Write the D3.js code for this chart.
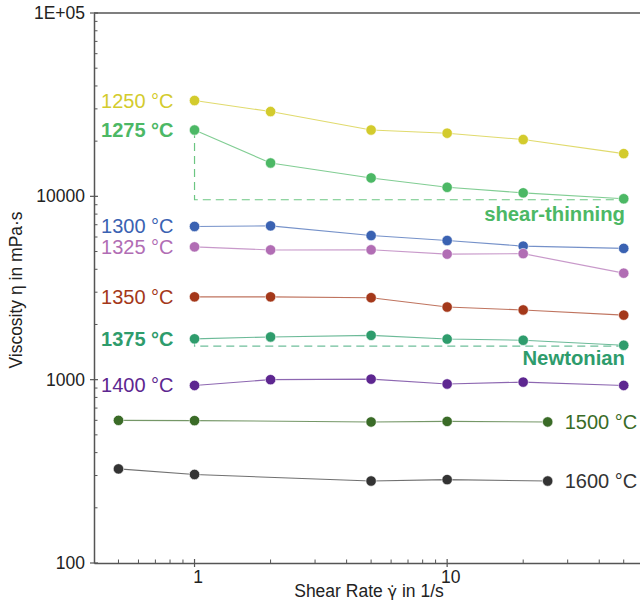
<!DOCTYPE html>
<html><head><meta charset="utf-8">
<script src="https://cdn.jsdelivr.net/npm/d3@7"></script>
<style>
html,body{margin:0;padding:0;background:#fff;}
svg{display:block;font-family:"Liberation Sans",Arial,sans-serif;}
</style></head>
<body><svg id="chart" width="640" height="604"></svg>
<script>
// ---- data ----
const rateLow = [1, 2, 5, 10, 20, 50];          // shear rates, 1250–1400 °C
const rateHigh = [0.5, 1, 5, 10, 25];           // shear rates, 1500–1600 °C
const temps = ["1250 °C","1275 °C","1300 °C","1325 °C","1350 °C","1375 °C","1400 °C","1500 °C","1600 °C"];
const eta1250 = [33300, 29000, 23000, 22100, 20400, 17100];
const eta1275 = [23000, 15200, 12600, 11200, 10450, 9700];
const eta1300 = [6850, 6900, 6110, 5740, 5350, 5200];
const eta1325 = [5300, 5100, 5110, 4840, 4870, 3810];
const eta1350 = [2830, 2830, 2800, 2490, 2400, 2250];
const eta1375 = [1670, 1710, 1745, 1665, 1640, 1540];
const eta1400 = [930, 1000, 1007, 947, 970, 930];
const eta1500 = [600, 598, 588, 592, 588];
const eta1600 = [326, 304, 280, 285, 280];
const colors = ["#d3cb2d","#4cb865","#3a62b2","#b16db4","#a4381a","#2e9c6c","#5d2690","#3a6b27","#333333"];
const boldLabels = [false,true,false,false,false,true,false,false,false];
const yTickLabels = ["100","1000","10000","1E+05"];
const yTickValues = [100, 1000, 10000, 100000];
const xTickValues = [1, 10];
const xTickLabels = ["1","10"];
const annotations = ["shear-thinning","Newtonian"];

const seriesX = [rateLow,rateLow,rateLow,rateLow,rateLow,rateLow,rateLow,rateHigh,rateHigh];
const seriesY = [eta1250,eta1275,eta1300,eta1325,eta1350,eta1375,eta1400,eta1500,eta1600];

// ---- scales ----
const svg = d3.select("#chart");
const x = d3.scaleLog().domain([0.4, 58]).range([94, 640]);
const y = d3.scaleLog().domain([100, 100000]).range([563, 13]);
const axisColor = "#555";

// top border
svg.append("line").attr("x1", x(0.4)).attr("x2", 640).attr("y1", y(1e5)).attr("y2", y(1e5))
  .attr("stroke", axisColor).attr("stroke-width", 1.5);

// y axis
const yAxis = d3.axisLeft(y).tickValues(yTickValues).tickFormat((d,i)=>yTickLabels[i]).tickSize(0).tickPadding(9);
const gy = svg.append("g").attr("transform", `translate(${x(0.4)},0)`).call(yAxis);
gy.select(".domain").attr("stroke", axisColor).attr("stroke-width", 1.5);
gy.selectAll("text").attr("font-size", 17.5).attr("fill", "#222").attr("font-family","Liberation Sans, Arial, sans-serif");
// y ticks: major crossing, minor inside
const yMinor = [];
[100,1000,10000].forEach(b => { for (let k=2;k<=9;k++) yMinor.push(b*k); });
svg.append("g").selectAll("line").data(yMinor).join("line")
  .attr("x1", x(0.4)).attr("x2", x(0.4)+3.5).attr("y1", d=>y(d)).attr("y2", d=>y(d))
  .attr("stroke", axisColor).attr("stroke-width", 1);
svg.append("g").selectAll("line").data(yTickValues).join("line")
  .attr("x1", x(0.4)-4).attr("x2", x(0.4)+4).attr("y1", d=>y(d)).attr("y2", d=>y(d))
  .attr("stroke", axisColor).attr("stroke-width", 1.2);

// x axis
const xAxis = d3.axisBottom(x).tickValues(xTickValues).tickFormat((d,i)=>xTickLabels[i]).tickSize(0).tickPadding(8);
const gx = svg.append("g").attr("transform", `translate(0,${y(100)})`).call(xAxis);
gx.select(".domain").attr("stroke", axisColor).attr("stroke-width", 1.5);
gx.selectAll("text").attr("font-size", 17.5).attr("fill", "#222").attr("dx", 3).attr("font-family","Liberation Sans, Arial, sans-serif");
const xMinor = [0.5,0.6,0.7,0.8,0.9,2,3,4,5,6,7,8,9,20,30,40,50];
svg.append("g").selectAll("line").data(xMinor).join("line")
  .attr("x1", d=>x(d)).attr("x2", d=>x(d)).attr("y1", y(100)).attr("y2", y(100)-3.5)
  .attr("stroke", axisColor).attr("stroke-width", 1);
svg.append("g").selectAll("line").data(xTickValues).join("line")
  .attr("x1", d=>x(d)).attr("x2", d=>x(d)).attr("y1", y(100)-4).attr("y2", y(100)+4)
  .attr("stroke", axisColor).attr("stroke-width", 1.2);

// axis titles
const xt = svg.append("text").attr("x", 369).attr("y", 597).attr("text-anchor","middle")
  .attr("font-size", 17.5).attr("fill", "#222");
xt.append("tspan").text("Shear Rate ");
xt.append("tspan").attr("font-family","DejaVu Sans").attr("font-size", 16).text("γ̇");
xt.append("tspan").text(" in 1/s");
svg.append("text").attr("transform", "translate(22,290) rotate(-90)").attr("text-anchor","middle")
  .attr("font-size", 17.5).attr("fill", "#222").text("Viscosity η in mPa·s");

// dashed guide lines (shear-thinning, Newtonian)
const last1275 = eta1275[eta1275.length-1];
svg.append("path")
  .attr("d", `M${x(1)},${y(eta1275[0])}V${y(last1275)+1}H${x(50)}`)
  .attr("fill","none").attr("stroke", "#6cc682").attr("stroke-width", 1.2).attr("stroke-dasharray","8,5");
svg.append("path")
  .attr("d", `M${x(1)},${y(eta1375[0])}V${y(1525)}H${x(50)}`)
  .attr("fill","none").attr("stroke", "#6fbf9b").attr("stroke-width", 1.2).attr("stroke-dasharray","8,5");

// series
const line = d3.line().x(d=>x(d[0])).y(d=>y(d[1]));
seriesY.forEach((vals, i) => {
  const pts = vals.map((v,j)=>[seriesX[i][j], v]);
  svg.append("path").datum(pts).attr("d", line).attr("fill","none")
    .attr("stroke", colors[i]).attr("stroke-opacity", 0.7).attr("stroke-width", 1.1);
  svg.append("g").selectAll("circle").data(pts).join("circle")
    .attr("cx", d=>x(d[0])).attr("cy", d=>y(d[1])).attr("r", 5.2)
    .attr("fill", colors[i]).attr("stroke","#fff").attr("stroke-width",0.6);
});

// temperature labels
seriesY.forEach((vals, i) => {
  const xs = seriesX[i];
  const t = svg.append("text").attr("font-size", 20).attr("fill", colors[i])
    .attr("font-weight", boldLabels[i] ? "bold" : "normal").attr("dominant-baseline","central").text(temps[i]);
  if (i < 7) {
    t.attr("x", x(1) - 21).attr("y", y(vals[xs.indexOf(1)])).attr("text-anchor","end");
  } else {
    t.attr("x", x(xs[xs.length-1]) + 17).attr("y", y(vals[vals.length-1])).attr("text-anchor","start");
  }
});

// annotations
svg.append("text").attr("x", 625).attr("y", y(last1275)+15).attr("text-anchor","end")
  .attr("dominant-baseline","central").attr("font-size", 20.3).attr("font-weight","bold")
  .attr("fill", colors[1]).text(annotations[0]);
svg.append("text").attr("x", 625).attr("y", y(1525)+12).attr("text-anchor","end")
  .attr("dominant-baseline","central").attr("font-size", 20.3).attr("font-weight","bold")
  .attr("fill", colors[5]).text(annotations[1]);
</script></body></html>
